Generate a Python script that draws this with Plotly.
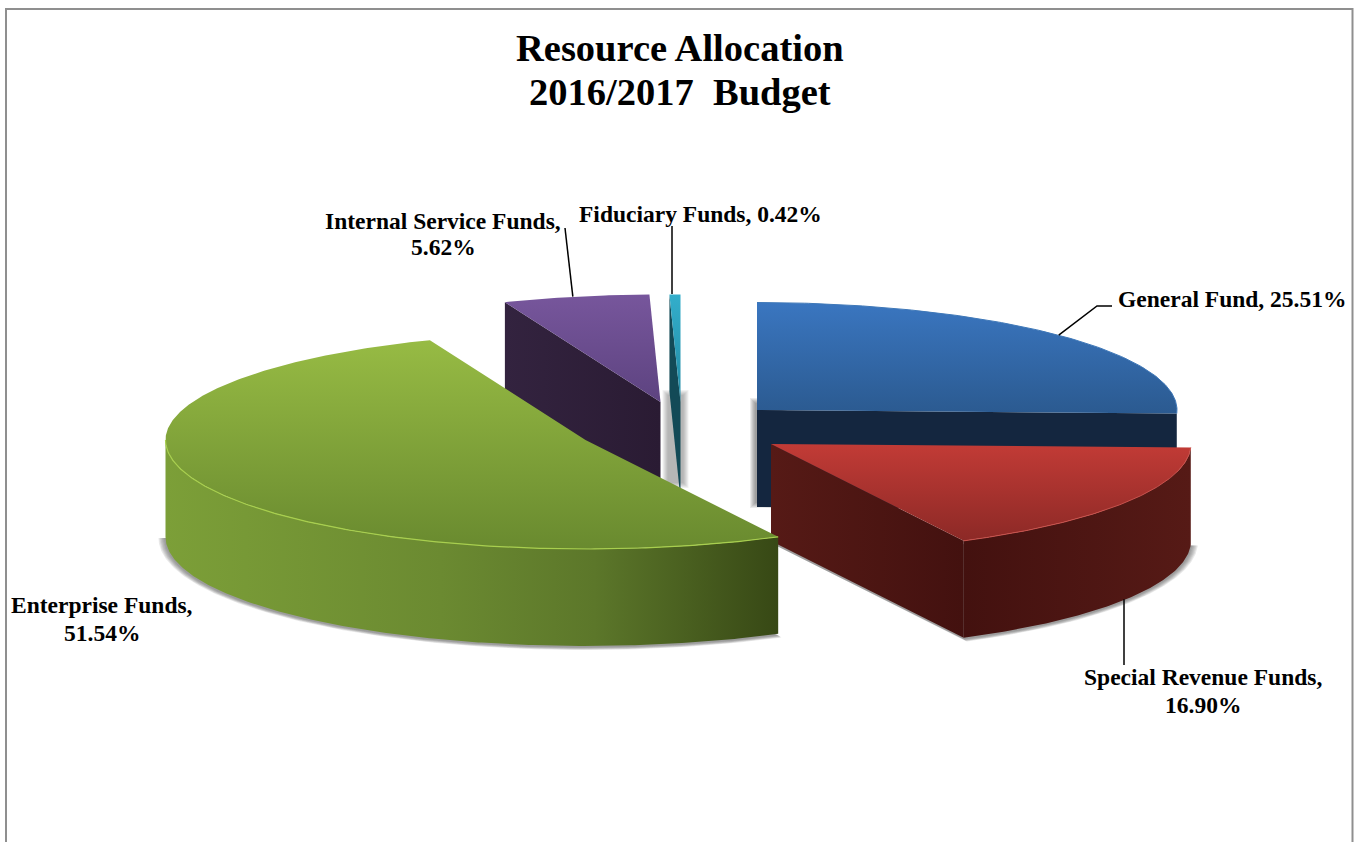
import math
import plotly.graph_objects as go

# Budget shares, clockwise from twelve o'clock
FUNDS = ["General Fund", "Special Revenue Funds", "Enterprise Funds",
         "Internal Service Funds", "Fiduciary Funds"]
SHARES = [25.51, 16.90, 51.54, 5.62, 0.42]
TITLE_LINES = ["Resource Allocation", "2016/2017\u00a0\u00a0Budget"]

# Projected pie: ellipse radii (the far half is slightly flatter), wall height,
# and the exploded centre of each slice
RX, RY_NEAR, RY_FAR, DEPTH = 420, 109, 107.5, 97
CENTERS = {
    "General Fund": (757, 410),
    "Special Revenue Funds": (771, 444),
    "Enterprise Funds": (585.5, 440),
    "Internal Service Funds": (660.5, 402),
    "Fiduciary Funds": (680.5, 402),
}
TOP_COLORS = {
    "General Fund": ("#3a76c0", "#2b5a90"),
    "Special Revenue Funds": ("#c23b36", "#8c2926"),
    "Enterprise Funds": ("#97bb44", "#698a2f"),
    "Internal Service Funds": ("#77569c", "#5d4380"),
    "Fiduciary Funds": ("#33aecb", "#2189a3"),
}
WALL_COLORS = {
    "General Fund": ("#14263f", "#14263f"),
    "Special Revenue Funds": ("#561a16", "#43110f"),
    "Enterprise Funds": ("#3a4a17", "#7c9f38"),
    "Internal Service Funds": ("#33233f", "#2a1b33"),
    "Fiduciary Funds": ("#134a57", "#134a57"),
}
RIM_COLORS = {
    "General Fund": "#3f78b8",
    "Special Revenue Funds": "#c9524c",
    "Enterprise Funds": "#a8cf4e",
}
# Label anchor: centre x, then the y of each text line
LABELS = {
    "General Fund": (1232, [299]),
    "Special Revenue Funds": (1203, [677, 705]),
    "Enterprise Funds": (102, [605, 633]),
    "Internal Service Funds": (443, [221, 247]),
    "Fiduciary Funds": (700, [214]),
}
TEXT_FONT = "Liberation Serif"

total = sum(SHARES)
bounds = {}
running = 0.0
for fund, share in zip(FUNDS, SHARES):
    bounds[fund] = (running * 360 / total, (running + share) * 360 / total)
    running += share


def point(center, angle, drop=0.0, grow_x=0.0, grow_y=0.0):
    rad = math.radians(angle)
    ry = RY_FAR if math.cos(rad) > 0 else RY_NEAR
    return (center[0] + (RX + grow_x) * math.sin(rad),
            center[1] - (ry + grow_y) * math.cos(rad) + drop)


def arc(center, a0, a1, drop=0.0, grow_x=0.0, grow_y=0.0):
    steps = max(2, int(abs(a1 - a0) * 2))
    return [point(center, a0 + (a1 - a0) * i / steps, drop, grow_x, grow_y)
            for i in range(steps + 1)]


fig = go.Figure()


def polygon(name, pts, color=None, gradient=None):
    xs = [p[0] for p in pts] + [pts[0][0]]
    ys = [p[1] for p in pts] + [pts[0][1]]
    kwargs = dict(fillcolor=color) if color else {}
    if gradient:
        orientation, stops, start, stop = gradient
        kwargs = dict(fillgradient=dict(type=orientation, start=start, stop=stop,
                                        colorscale=stops))
    fig.add_trace(go.Scatter(x=xs, y=ys, mode="lines", fill="toself", name=name,
                             line=dict(width=0), hoverinfo="skip", showlegend=False,
                             **kwargs))


def outline(name, pts, color, width=1.0):
    fig.add_trace(go.Scatter(x=[p[0] for p in pts], y=[p[1] for p in pts], mode="lines",
                             name=name, line=dict(color=color, width=width),
                             hoverinfo="skip", showlegend=False))


def box_shadow(name, x0, y0, x1, y1, layers=6, alpha=0.10):
    # Soft edge built from nested translucent rectangles
    for i in range(layers):
        polygon(name, [(x0 + i, y0 + i), (x1 - i, y0 + i), (x1 - i, y1 - i), (x0 + i, y1 - i)],
                color=f"rgba(60,60,60,{alpha})")


def floor_shadow(fund, a0, a1, spread_x, spread_y):
    # Shadow cast by the slice's base onto the page
    center = CENTERS[fund]
    layers = 6
    for i in range(layers):
        f = 1 - i / layers
        base = [(center[0], center[1] + DEPTH + 2)]
        base += arc(center, a0, a1, DEPTH + 1, spread_x * f, spread_y * f)
        polygon(fund + " shadow", base, color="rgba(70,70,70,0.12)")


def top_face(fund):
    c = CENTERS[fund]
    a0, a1 = bounds[fund]
    pts = [c] + arc(c, a0, a1)
    ys = [p[1] for p in pts]
    c0, c1 = TOP_COLORS[fund]
    polygon(fund, pts, gradient=("vertical", [[0, c0], [1, c1]], min(ys), max(ys)))


def radial_wall(fund, angle):
    c = CENTERS[fund]
    outer = point(c, angle)
    pts = [outer, c, (c[0], c[1] + DEPTH), (outer[0], outer[1] + DEPTH)]
    c0, c1 = WALL_COLORS[fund]
    lo, hi = sorted((outer[0], c[0]))
    polygon(fund + " wall", pts, gradient=("horizontal", [[0, c0], [1, c1]], lo, hi))


def outer_wall(fund, a0, a1, stops):
    c = CENTERS[fund]
    pts = arc(c, a0, a1) + arc(c, a1, a0, DEPTH)
    xs = [p[0] for p in pts]
    polygon(fund + " rim wall", pts, gradient=("horizontal", stops, min(xs), max(xs)))


# Shadows lie on the page below every slice
gen, rev, ent, svc, fid = FUNDS
gx, gy = CENTERS[gen]
box_shadow(gen + " shadow", gx - 7, gy - 12, gx + 30, gy + DEPTH + 1)
fx, fy = CENTERS[fid]
box_shadow(fid + " shadow", fx - 18, fy - 12, fx + 8, fy + DEPTH - 12 + 1, layers=6, alpha=0.07)
floor_shadow(ent, bounds[ent][0], 270, 7, 3)
floor_shadow(rev, bounds[rev][0], bounds[rev][1], 7, 3)

# General Fund sits at the back
radial_wall(gen, bounds[gen][1])
top_face(gen)
outline(gen + " rim", arc(CENTERS[gen], 0, bounds[gen][1]), RIM_COLORS[gen])

# Slivers at the back left
radial_wall(fid, bounds[fid][0])
top_face(fid)
radial_wall(svc, bounds[svc][0])
top_face(svc)

# Special Revenue in front of the General Fund
radial_wall(rev, bounds[rev][1])
outer_wall(rev, bounds[rev][0], bounds[rev][1], [[0, "#43110f"], [1, "#561a16"]])
top_face(rev)
outline(rev + " rim", arc(CENTERS[rev], bounds[rev][0], bounds[rev][1]), RIM_COLORS[rev])

# Enterprise Funds on top of everything at the front
outer_wall(ent, bounds[ent][0], 270,
           [[0, "#7c9f38"], [0.45, "#6b8a31"], [0.7, "#5c772a"], [1, "#374815"]])
top_face(ent)
outline(ent + " rim", arc(CENTERS[ent], bounds[ent][0], 270), RIM_COLORS[ent], 1.2)

# Leader lines run from the middle of each slice's arc towards its label
gmid = point(CENTERS[gen], sum(bounds[gen]) / 2)
outline("General leader", [gmid, (1097, 306), (1112, 306)], "#000000", 1.5)
rmid = point(CENTERS[rev], sum(bounds[rev]) / 2, DEPTH)
outline("Special leader", [(1124, rmid[1]), (1124, 665)], "#000000", 1.5)
smid = point(CENTERS[svc], sum(bounds[svc]) / 2)
outline("Internal leader", [(smid[0] - 3, smid[1]), (565, 228)], "#000000", 1.5)
outline("Fiduciary leader", [(672, 294), (672, 226)], "#000000", 1.5)

annotations = []
for fund, share in zip(FUNDS, SHARES):
    x, rows = LABELS[fund]
    if len(rows) == 2:
        lines = [f"{fund},", f"{share:.2f}%"]
    else:
        lines = [f"{fund}, {share:.2f}%"]
    for line, y in zip(lines, rows):
        annotations.append(dict(x=x, y=y, xref="x", yref="y", showarrow=False, text=line,
                                font=dict(family=TEXT_FONT, size=23.5, color="#000000",
                                          weight="bold")))

# Two-line heading with tighter leading than a wrapped title allows
for line, y in zip(TITLE_LINES, [48, 92]):
    annotations.append(dict(x=679.5, y=y, xref="x", yref="y", showarrow=False, text=line,
                            font=dict(family=TEXT_FONT, size=38.5, color="#000000",
                                      weight="bold")))

# Chart frame is open along the bottom edge of the page
frame = dict(type="path", path="M 6 842 L 6 9 L 1352.5 9 L 1352.5 842",
             line=dict(color="#8f8f8f", width=2), xref="x", yref="y")

fig.update_layout(
    width=1355, height=842, autosize=False,
    margin=dict(l=0, r=0, t=0, b=0),
    paper_bgcolor="#ffffff", plot_bgcolor="#ffffff",
    showlegend=False,
    xaxis=dict(range=[0, 1355], visible=False, fixedrange=True),
    yaxis=dict(range=[842, 0], visible=False, fixedrange=True),
    shapes=[frame],
    annotations=annotations,
)

fig.write_html("out.html", config=dict(displayModeBar=False))
